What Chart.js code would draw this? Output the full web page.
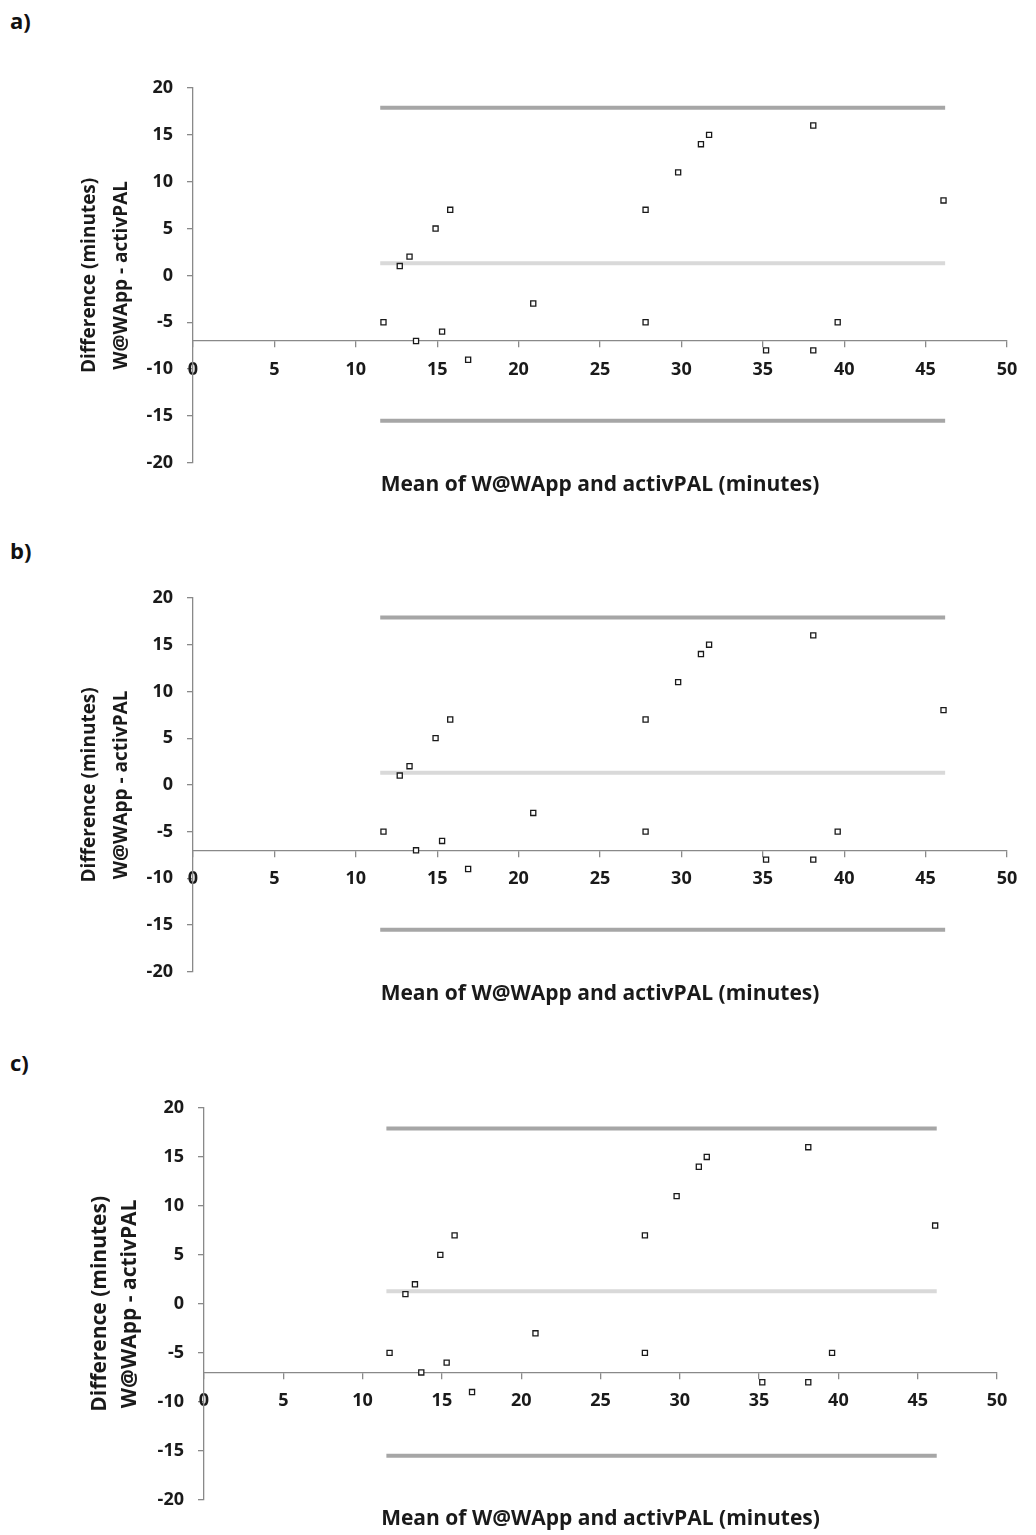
<!DOCTYPE html>
<html>
<head>
<meta charset="utf-8">
<script src="https://cdn.jsdelivr.net/npm/chart.js@4.4.1/dist/chart.umd.min.js"></script>
<style>
  body { margin: 0; background: #fff; }
  #page { position: relative; width: 1036px; height: 1535px; overflow: hidden; }
  .panel { position: absolute; left: 0; width: 1036px; }
  .tag { position: absolute; left: 10px; font: bold 22px "Open Sans", sans-serif; line-height: 24px; color: #111; }
</style>
</head>
<body>
<div id="page">
  <div class="tag" style="top:8px">a)</div>
  <div class="panel" style="top:0;height:510px"><canvas id="chartA"></canvas></div>
  <div class="tag" style="top:538px">b)</div>
  <div class="panel" style="top:510px;height:510px"><canvas id="chartB"></canvas></div>
  <div class="tag" style="top:1050px">c)</div>
  <div class="panel" style="top:1020px;height:515px"><canvas id="chartC"></canvas></div>
</div>
<script>
/* Datos del gráfico Bland-Altman */
const meanValues = [11.7, 12.7, 13.3, 13.7, 14.9, 15.3, 15.8, 16.9, 20.9, 27.8, 27.8, 29.8, 31.2, 31.7, 35.2, 38.1, 38.1, 39.6, 46.1];
const diffValues = [-5, 1, 2, -7, 5, -6, 7, -9, -3, 7, -5, 11, 14, 15, -8, 16, -8, -5, 8];
const lineRange = [11.5, 46.2]; // inicio y fin de las líneas de sesgo / límites
const biasValue = 1.3;
const upperLimit = 17.9;
const lowerLimit = -15.5;
const xTicks = [0, 5, 10, 15, 20, 25, 30, 35, 40, 45, 50];
const yTicks = [-20, -15, -10, -5, 0, 5, 10, 15, 20];
const xAxisCross = -7;
const xTitle = "Mean of W@WApp and activPAL (minutes)";
const yTitle = ["Difference (minutes)", "W@WApp - activPAL"];

const fontFamily = '"Open Sans", sans-serif';
const axisGrey = "#898989";
const textColor = "#1a1a1a";

function hLine(value) {
  return lineRange.map((x) => ({ x: x, y: value }));
}

// Crea cada panel; geo solo trae posiciones y tamaños
function makePanel(canvasId, geo) {
  const ctx = document.getElementById(canvasId).getContext("2d");
  return new Chart(ctx, {
    type: "scatter",
    data: {
      datasets: [
        {
          label: "diferencias",
          data: meanValues.map((m, i) => ({ x: m, y: diffValues[i] })),
          pointStyle: "rect",
          pointRadius: 3.6,
          pointBorderWidth: 1.3,
          pointBorderColor: "#1a1a1a",
          pointBackgroundColor: "#ffffff"
        },
        {
          label: "sesgo",
          data: hLine(biasValue),
          showLine: true,
          borderColor: "#d9d9d9",
          borderWidth: 4,
          pointRadius: 0
        },
        {
          label: "límite superior",
          data: hLine(upperLimit),
          showLine: true,
          borderColor: "#a6a6a6",
          borderWidth: 4,
          pointRadius: 0
        },
        {
          label: "límite inferior",
          data: hLine(lowerLimit),
          showLine: true,
          borderColor: "#a6a6a6",
          borderWidth: 4,
          pointRadius: 0
        }
      ]
    },
    options: {
      responsive: true,
      maintainAspectRatio: false,
      animation: false,
      layout: {
        padding: { top: geo.top, right: geo.right, bottom: geo.bottom, left: 0 }
      },
      plugins: {
        legend: { display: false },
        tooltip: { enabled: false },
        title: {
          display: true,
          position: "bottom",
          fullSize: false,
          text: xTitle,
          color: textColor,
          font: { family: fontFamily, size: 21, weight: "bold" },
          padding: { top: geo.xTitlePad, bottom: 0 }
        }
      },
      scales: {
        x: {
          type: "linear",
          position: { y: xAxisCross },
          min: xTicks[0],
          max: xTicks[xTicks.length - 1],
          afterBuildTicks: (scale) => {
            scale.ticks = xTicks.map((v) => ({ value: v }));
          },
          grid: { drawOnChartArea: false, color: axisGrey, tickLength: 6, lineWidth: 1.3 },
          border: { color: axisGrey, width: 1.3 },
          ticks: {
            color: textColor,
            padding: 12,
            maxRotation: 0,
            font: { family: fontFamily, size: 18, weight: "bold" }
          }
        },
        y: {
          type: "linear",
          position: "left",
          min: yTicks[0],
          max: yTicks[yTicks.length - 1],
          afterBuildTicks: (scale) => {
            scale.ticks = yTicks.map((v) => ({ value: v }));
          },
          afterFit: (scale) => {
            scale.width = geo.left;
          },
          grid: { drawOnChartArea: false, color: axisGrey, tickLength: 6, lineWidth: 1.3 },
          border: { color: axisGrey, width: 1.3 },
          ticks: {
            color: textColor,
            padding: 14,
            font: { family: fontFamily, size: 18, weight: "bold" }
          },
          title: {
            display: true,
            text: yTitle,
            color: textColor,
            font: { family: fontFamily, size: geo.yTitleSize, weight: "bold", lineHeight: geo.yTitleLine },
            padding: { top: geo.yTitlePad, bottom: 0 }
          }
        }
      }
    }
  });
}

makePanel("chartA", { top: 88, right: 29, bottom: 12, left: 193, xTitlePad: 10, yTitleSize: 19, yTitleLine: 1.68, yTitlePad: 74 });
makePanel("chartB", { top: 88, right: 29, bottom: 13, left: 193, xTitlePad: 10, yTitleSize: 19, yTitleLine: 1.68, yTitlePad: 74 });
makePanel("chartC", { top: 88, right: 39, bottom: 3, left: 204, xTitlePad: 7, yTitleSize: 21, yTitleLine: 1.43, yTitlePad: 85 });
</script>
</body>
</html>
